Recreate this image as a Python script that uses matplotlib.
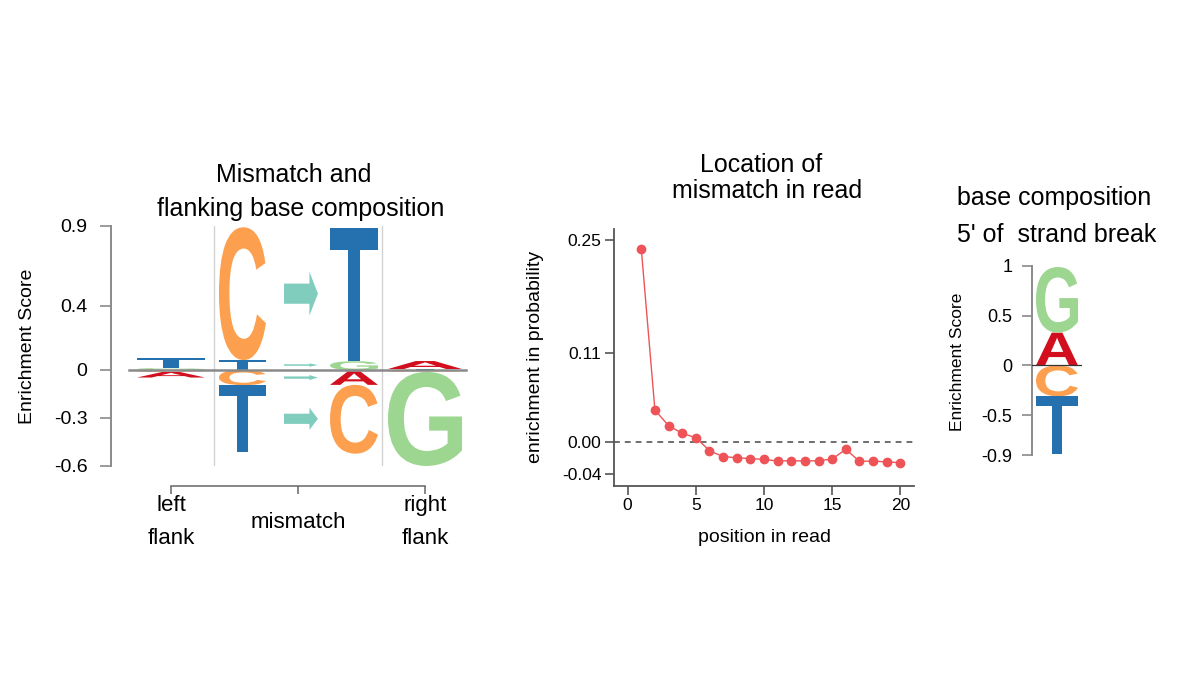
import matplotlib
matplotlib.use('Agg')
import matplotlib.pyplot as plt
from matplotlib.textpath import TextPath
from matplotlib.patches import PathPatch, FancyArrow
from matplotlib.font_manager import FontProperties
import matplotlib.transforms as mtransforms

plt.rcParams['font.family'] = ['Liberation Sans', 'DejaVu Sans']

# ------------------------------------------------------------------ data
bases = ['A', 'C', 'G', 'T']
base_colors = {'A': '#D20F1E', 'C': '#FCA050', 'G': '#9DD691', 'T': '#2570AE'}
arrow_color = '#80CDBE'

# panel 1: mismatch and flanking base composition (enrichment / depletion per base)
left_flank_pos = [0.0, 0.0, 0.012, 0.060]
left_flank_neg = [-0.035, -0.012, 0.0, 0.0]
ref_base_pos = [0.0, 0.830, 0.0, 0.062]
ref_base_neg = [0.0, -0.095, 0.0, -0.420]
alt_base_pos = [0.0, 0.0, 0.055, 0.830]
alt_base_neg = [-0.085, -0.430, -0.008, 0.0]
right_flank_pos = [0.050, 0.0, 0.0, 0.006]
right_flank_neg = [0.0, -0.012, -0.588, 0.0]

left_yticks = [0.9, 0.4, 0, -0.3, -0.6]
left_yticklabels = ['0.9', '0.4', '0', '-0.3', '-0.6']
region_ticks = [0, 1, 2]
region_labels = ['left\nflank', 'mismatch', 'right\nflank']

# panel 2: location of mismatch in read
read_position = list(range(1, 21))
mismatch_enrichment = [0.2395, 0.0393, 0.0199, 0.0104, 0.0050, -0.0112, -0.0186,
                       -0.0198, -0.0211, -0.0219, -0.0240, -0.0236, -0.0240, -0.0236,
                       -0.0215, -0.0095, -0.0244, -0.0240, -0.0252, -0.0260]
mid_yticks = [-0.04, 0.0, 0.11, 0.25]
mid_yticklabels = ['-0.04', '0.00', '0.11', '0.25']
mid_xticks = [0, 5, 10, 15, 20]

# panel 3: base composition 5' of strand break
break_pos = [0.33, 0.0, 0.66, 0.0]
break_neg = [0.0, -0.31, 0.0, -0.58]
right_yticks = [1, 0.5, 0, -0.5, -0.9]
right_yticklabels = ['1', '0.5', '0', '-0.5', '-0.9']

# ------------------------------------------------------------------ helpers
W, H = 1200, 700
fig = plt.figure(figsize=(12, 7), dpi=100)


def fx(px):
    return px / W


def fy(py):
    return 1 - py / H


LOGO_FP = FontProperties(family='Liberation Sans', weight='bold')
_glyphs = {}


def glyph(letter):
    if letter not in _glyphs:
        _glyphs[letter] = TextPath((0, 0), letter, size=1, prop=LOGO_FP)
    return _glyphs[letter]


def stack_order(values):
    """Return (letter, bottom, height) stacked away from the baseline."""
    out = []
    pos = sorted([(v, b) for b, v in zip(bases, values) if v > 0])
    y = 0.0
    for v, b in pos:
        out.append((b, y, v))
        y += v
    neg = sorted([(v, b) for b, v in zip(bases, values) if v < 0], reverse=True)
    y = 0.0
    for v, b in neg:
        y += v
        out.append((b, y, -v))
    return out


def draw_letter(ax, letter, xc, width, y0, height):
    p = glyph(letter)
    bb = p.get_extents()
    t = (mtransforms.Affine2D()
         .translate(-bb.x0, -bb.y0)
         .scale(width / bb.width, height / bb.height)
         .translate(xc - width / 2, y0))
    ax.add_patch(PathPatch(t.transform_path(p), facecolor=base_colors[letter],
                           edgecolor='none', lw=0, zorder=3))


def draw_stack(ax, xc, width, *value_sets):
    for vals in value_sets:
        for letter, bottom, height in stack_order(vals):
            draw_letter(ax, letter, xc, width, bottom, height)


def draw_arrows(ax, x0, x1, head_len, *value_sets):
    for vals in value_sets:
        for letter, bottom, height in stack_order(vals):
            yc = bottom + height / 2
            hw = 0.33 * height
            ax.add_patch(FancyArrow(x0, yc, x1 - x0, 0, width=0.46 * hw, head_width=hw,
                                    head_length=head_len, length_includes_head=True,
                                    color=arrow_color, lw=0, zorder=3))


# ------------------------------------------------------------------ panel 1
ax1 = fig.add_axes([fx(111), fy(466), fx(470 - 111), (466 - 226) / H])
ax1.set_xlim(-0.472, 2.354)
ax1.set_ylim(-0.6, 0.9)

col_x = [0.0, 0.563, 1.441, 2.0]
col_w = [0.535, 0.37, 0.378, 0.583]
draw_stack(ax1, col_x[0], col_w[0], left_flank_pos, left_flank_neg)
draw_stack(ax1, col_x[1], col_w[1], ref_base_pos, ref_base_neg)
draw_stack(ax1, col_x[2], col_w[2], alt_base_pos, alt_base_neg)
draw_stack(ax1, col_x[3], col_w[3], right_flank_pos, right_flank_neg)
draw_arrows(ax1, 0.89, 1.157, 0.067, ref_base_pos, ref_base_neg)

for sx in (0.339, 1.661):
    ax1.axvline(sx, color='#d2d2d2', lw=1.0, zorder=1)
ax1.axhline(0, xmin=0.05, xmax=0.99, color='#8a8a8a', lw=1.8, zorder=4)

for s in ('top', 'right'):
    ax1.spines[s].set_visible(False)
ax1.spines['left'].set_color('#8a8a8a')
ax1.spines['left'].set_linewidth(1.4)
ax1.spines['bottom'].set_position(('outward', 14.4))
ax1.spines['bottom'].set_bounds(0, 2)
ax1.spines['bottom'].set_color('#666666')
ax1.spines['bottom'].set_linewidth(1.1)
ax1.set_yticks(left_yticks, left_yticklabels)
ax1.tick_params(axis='y', length=8, width=1.2, color='#8a8a8a', pad=9, labelsize=14)
ax1.set_xticks(region_ticks)
ax1.tick_params(axis='x', length=6, width=1.1, color='#666666', labelbottom=False)

ytr = mtransforms.blended_transform_factory(ax1.transData, fig.transFigure)
for xt, lab in zip(region_ticks, region_labels):
    ax1.text(xt, fy(522), lab, transform=ytr, ha='center', va='center',
             fontsize=16, linespacing=1.8)

fig.text(fx(28), fy(346), 'Enrichment Score', rotation=90, ha='center', va='center',
         fontsize=14)
fig.text(fx(294), fy(182), 'Mismatch and', ha='center', va='baseline', fontsize=18)
fig.text(fx(301), fy(216), 'flanking base composition', ha='center', va='baseline',
         fontsize=18)

# ------------------------------------------------------------------ panel 2
ax2 = fig.add_axes([fx(614), fy(486), fx(300), (486 - 229) / H])
ax2.plot(read_position, mismatch_enrichment, color='#EE5457', lw=1.0, marker='o',
         ms=6, mec='#EE5457', mfc='#EE5457', zorder=3)
ax2.axhline(0, color='#555555', lw=1.2, ls=(0, (3.5, 3)), zorder=2)
ax2.set_xlim(-1, 21)
ax2.set_ylim(-0.055, 0.264)
ax2.set_xticks(mid_xticks)
ax2.set_yticks(mid_yticks, mid_yticklabels)
for s in ('top', 'right'):
    ax2.spines[s].set_visible(False)
for s in ('left', 'bottom'):
    ax2.spines[s].set_color('#555555')
    ax2.spines[s].set_linewidth(1.3)
ax2.tick_params(length=6.5, width=1.2, color='#555555', pad=2.5, labelsize=12.5)

fig.text(fx(535), fy(357), 'enrichment in probability', rotation=90, ha='center',
         va='center', fontsize=14)
fig.text(fx(764), fy(538), 'position in read', ha='center', va='center', fontsize=14)
fig.text(fx(761), fy(172), 'Location of', ha='center', va='baseline', fontsize=18)
fig.text(fx(767), fy(198), 'mismatch in read', ha='center', va='baseline', fontsize=18)

# ------------------------------------------------------------------ panel 3
ax3 = fig.add_axes([fx(1032), fy(455), fx(50), (455 - 266) / H])
ax3.set_xlim(0, 1)
ax3.set_ylim(-0.9, 1)
draw_stack(ax3, 0.5, 0.84, break_pos, break_neg)
ax3.axhline(0, color='#333333', lw=0.9, zorder=4)
for s in ('top', 'right', 'bottom'):
    ax3.spines[s].set_visible(False)
ax3.spines['left'].set_color('#8a8a8a')
ax3.spines['left'].set_linewidth(1.4)
ax3.set_xticks([])
ax3.set_yticks(right_yticks, right_yticklabels)
ax3.tick_params(axis='y', length=7, width=1.2, color='#8a8a8a', pad=7, labelsize=13)

fig.text(fx(957), fy(362), 'Enrichment Score', rotation=90, ha='center', va='center',
         fontsize=12.5)
fig.text(fx(1054), fy(205), 'base composition', ha='center', va='baseline', fontsize=18)
fig.text(fx(1057), fy(242), "5' of  strand break", ha='center', va='baseline',
         fontsize=18)

fig.savefig('out.png', dpi=100, facecolor='white')
